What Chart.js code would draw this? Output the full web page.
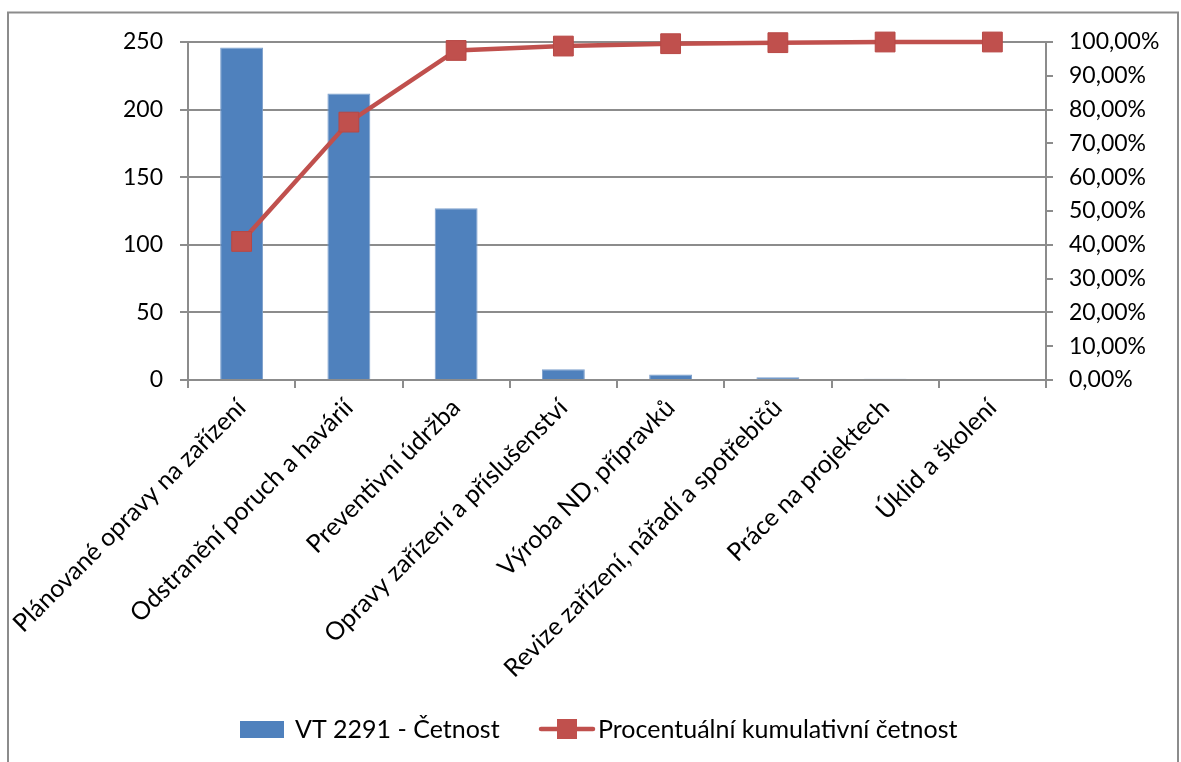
<!DOCTYPE html>
<html>
<head>
<meta charset="utf-8">
<script src="https://cdn.jsdelivr.net/npm/chart.js@4.4.1/dist/chart.umd.min.js"></script>
<style>
  html, body { margin: 0; padding: 0; background: #ffffff; }
  #wrap { width: 1181px; height: 762px; position: relative; overflow: hidden; }
  canvas { display: block; }
</style>
</head>
<body>
<div id="wrap"><canvas id="pareto" width="1181" height="762"></canvas></div>
<script>
// Činnosti údržby seřazené podle četnosti
const categories = [
  'Plánované opravy na zařízení',
  'Odstranění poruch a havárií',
  'Preventivní údržba',
  'Opravy zařízení a příslušenství',
  'Výroba ND, přípravků',
  'Revize zařízení, nářadí a spotřebičů',
  'Práce na projektech',
  'Úklid a školení'
];
const counts = [246, 212, 127, 8, 4, 2, 1, 0];
const cumulativePercent = [41.0, 76.3, 97.5, 98.8, 99.5, 99.8, 100, 100];
const countTicks = [0, 50, 100, 150, 200, 250];
const percentTicks = [0, 10, 20, 30, 40, 50, 60, 70, 80, 90, 100];
const seriesNames = ['VT 2291 - Četnost', 'Procentuální kumulativní četnost'];

const FONT = 'Lato';
const FONT_SIZE = 23;
const LABEL_SIZE = 25;
const AXIS_GREY = '#8c8c8c';
const BAR_BLUE = '#4f81bd';
const LINE_RED = '#c0504d';

// white background plus the outer frame
const framePlugin = {
  id: 'frame',
  beforeDraw(chart) {
    const ctx = chart.ctx;
    ctx.save();
    ctx.fillStyle = '#ffffff';
    ctx.fillRect(0, 0, chart.width, chart.height);
    ctx.strokeStyle = AXIS_GREY;
    ctx.lineWidth = 2;
    ctx.strokeRect(8, 12.5, 1170, 800);
    ctx.restore();
  }
};

// legend below the axis labels: a box for the bars, a line with a square marker for the curve
const bottomLegend = {
  id: 'bottomLegend',
  afterDraw(chart) {
    const ctx = chart.ctx;
    const ds = chart.data.datasets;
    const barDs = ds.find(d => d.type === 'bar');
    const lineDs = ds.find(d => d.type === 'line');
    ctx.save();
    ctx.font = LABEL_SIZE + 'px ' + FONT;
    ctx.textBaseline = 'middle';
    const cy = 729;
    // bar item
    ctx.fillStyle = barDs.backgroundColor;
    ctx.fillRect(240, cy - 8, 44, 17);
    ctx.fillStyle = '#000000';
    ctx.fillText(barDs.label, 295, cy + 1);
    // line item
    ctx.strokeStyle = lineDs.borderColor;
    ctx.lineWidth = lineDs.borderWidth;
    ctx.lineCap = 'round';
    ctx.beginPath();
    ctx.moveTo(541, cy);
    ctx.lineTo(593, cy);
    ctx.stroke();
    ctx.fillStyle = lineDs.pointBackgroundColor;
    ctx.fillRect(557, cy - 10, 20, 20);
    ctx.fillStyle = '#000000';
    ctx.fillText(lineDs.label, 598, cy + 1);
    ctx.restore();
  }
};

Chart.defaults.font.family = FONT;
Chart.defaults.font.size = FONT_SIZE;
Chart.defaults.color = '#000000';

new Chart(document.getElementById('pareto'), {
  data: {
    labels: categories,
    datasets: [
      {
        type: 'line',
        label: seriesNames[1],
        data: cumulativePercent,
        yAxisID: 'yPct',
        order: 0,
        clip: false,
        borderColor: LINE_RED,
        borderWidth: 4.5,
        tension: 0,
        pointStyle: 'rect',
        pointRadius: 14,
        pointHoverRadius: 14,
        pointBackgroundColor: LINE_RED,
        pointBorderColor: '#b84845',
        pointBorderWidth: 1
      },
      {
        type: 'bar',
        label: seriesNames[0],
        data: counts,
        yAxisID: 'yCount',
        order: 1,
        backgroundColor: BAR_BLUE,
        borderColor: '#7d9fcc',
        borderWidth: 1,
        barPercentage: 0.4,
        categoryPercentage: 1.0
      }
    ]
  },
  options: {
    responsive: false,
    animation: false,
    devicePixelRatio: 1,
    layout: { padding: { top: 42, left: 0, right: 0, bottom: 0 } },
    plugins: {
      legend: { display: false },
      tooltip: { enabled: false }
    },
    scales: {
      x: {
        type: 'category',
        offset: true,
        grid: {
          offset: true,
          drawOnChartArea: false,
          drawTicks: true,
          tickLength: 8,
          color: AXIS_GREY,
          lineWidth: 2
        },
        border: { display: true, color: AXIS_GREY, width: 2 },
        ticks: {
          autoSkip: false,
          minRotation: 45,
          maxRotation: 45,
          padding: 5,
          font: { family: FONT, size: LABEL_SIZE }
        },
        afterFit(scale) { scale.height = 382; }
      },
      yCount: {
        type: 'linear',
        position: 'left',
        min: 0,
        max: 250,
        afterBuildTicks(scale) { scale.ticks = countTicks.map(v => ({ value: v })); },
        grid: {
          color: AXIS_GREY,
          lineWidth: 2,
          drawTicks: true,
          tickLength: 8
        },
        border: { display: true, color: AXIS_GREY, width: 2 },
        ticks: {
          padding: 17,
          font: { family: FONT, size: FONT_SIZE }
        },
        afterFit(scale) { scale.width = 188; }
      },
      yPct: {
        type: 'linear',
        position: 'right',
        min: 0,
        max: 100,
        afterBuildTicks(scale) { scale.ticks = percentTicks.map(v => ({ value: v })); },
        grid: {
          drawOnChartArea: false,
          color: AXIS_GREY,
          lineWidth: 2,
          drawTicks: true,
          tickLength: 7
        },
        border: { display: true, color: AXIS_GREY, width: 2 },
        ticks: {
          padding: 16,
          font: { family: FONT, size: FONT_SIZE },
          callback: v => v.toFixed(2).replace('.', ',') + '%'
        },
        afterFit(scale) { scale.width = 135; }
      }
    }
  },
  plugins: [framePlugin, bottomLegend]
});
</script>
</body>
</html>
